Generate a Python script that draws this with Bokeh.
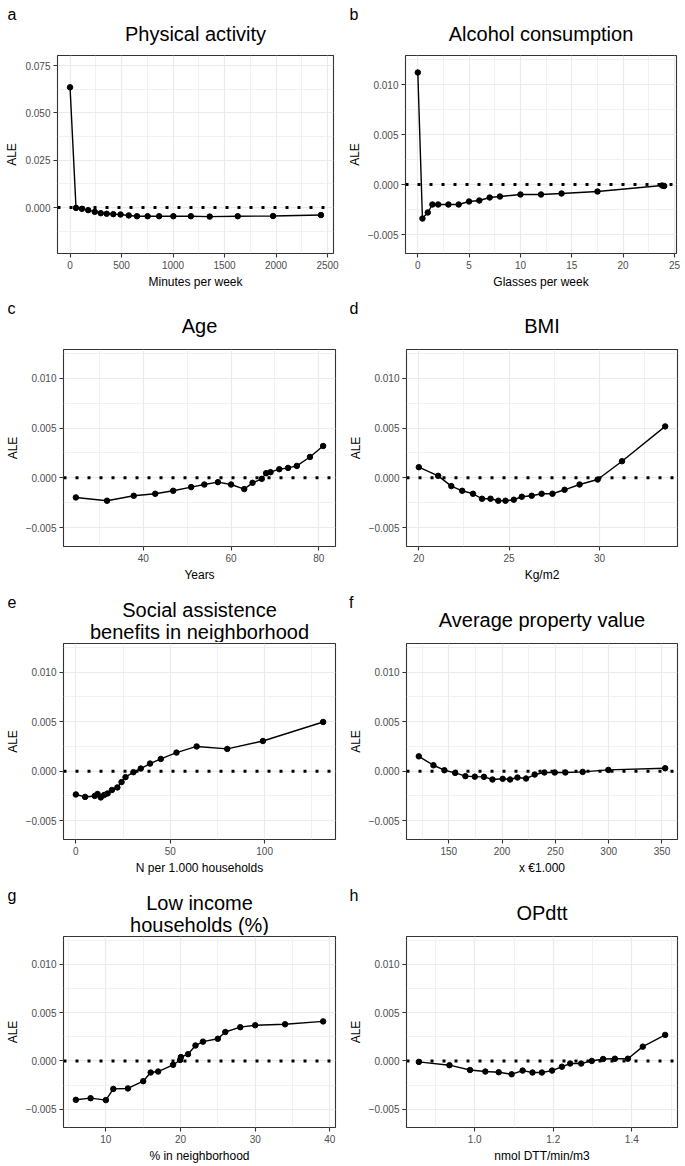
from bokeh.plotting import figure
from bokeh.models import Range1d, FixedTicker, Span
from bokeh.layouts import column, row
from bokeh.core.properties import value
from bokeh.embed import file_html
from bokeh.resources import INLINE

# ---------------- data ----------------
pa_x = [0, 58, 115, 176, 240, 298, 356, 420, 490, 570, 650, 753, 865, 1003, 1173, 1356, 1628, 1971, 2436]
pa_y = [0.0635, -0.0002, -0.0007, -0.0014, -0.0023, -0.0030, -0.0033, -0.0035, -0.0037, -0.0042,
        -0.0046, -0.0046, -0.0046, -0.0046, -0.0046, -0.0048, -0.0046, -0.0045, -0.0040]

pb_x = [0, 0.45, 0.97, 1.42, 1.98, 2.98, 3.98, 4.99, 5.99, 7.0, 8.0, 10.0, 12.0, 14.0, 17.5, 23.8, 24.0]
pb_y = [0.0112, -0.0034, -0.0028, -0.0020, -0.0020, -0.0020, -0.0020, -0.0017, -0.0016, -0.0013,
        -0.0012, -0.0010, -0.0010, -0.0009, -0.0007, -0.0001, -0.00015]

pc_x = [24.6, 31.7, 37.8, 42.7, 46.8, 50.9, 53.9, 57.0, 60.0, 63.0, 64.9, 67.0, 68.0, 69.0, 71.0, 73.0, 75.0, 78.0, 81.0]
pc_y = [-0.00197, -0.0023, -0.0018, -0.0016, -0.0013, -0.00093, -0.00067, -0.00043, -0.00067, -0.00113,
        -0.0005, -0.0001, 0.00047, 0.00057, 0.00087, 0.0010, 0.0012, 0.0021, 0.0032]

pd_x = [20.0, 21.07, 21.8, 22.4, 23.0, 23.5, 23.97, 24.4, 24.8, 25.26, 25.7, 26.25, 26.8, 27.4, 28.07, 28.9, 29.9, 31.25, 33.64]
pd_y = [0.00107, 0.0002, -0.00083, -0.0013, -0.0016, -0.0021, -0.0021, -0.0023, -0.0023, -0.0022,
        -0.0019, -0.0018, -0.0016, -0.0016, -0.0012, -0.00067, -0.00017, 0.00167, 0.00517]

pe_x = [0, 4.9, 10, 11.5, 13.2, 15, 16.8, 19.1, 22, 24.2, 26.3, 30.5, 34.4, 39.3, 45, 53.3, 64, 80.2, 99.1, 131]
pe_y = [-0.00235, -0.0026, -0.0025, -0.0023, -0.00265, -0.0024, -0.00225, -0.0019, -0.00164, -0.0011,
        -0.0006, -0.0001, 0.00027, 0.00077, 0.00124, 0.00188, 0.0025, 0.00225, 0.00305, 0.00497]

pf_x = [121.9, 135.6, 145.9, 156, 165.6, 174.4, 183, 191, 200.6, 207.5, 214.4, 222.5, 230.6, 239.7, 249.4, 259.4, 275.6, 299.7, 353]
pf_y = [0.0015, 0.0006, 0.0001, -0.00017, -0.0005, -0.00055, -0.00057, -0.00084, -0.00077, -0.00084,
        -0.00064, -0.00074, -0.00034, -0.00013, -0.00013, -0.00013, -0.00007, 0.00013, 0.0003]

pg_x = [5.98, 7.95, 10, 11, 12.95, 15, 16, 17, 19, 19.95, 20.05, 21, 22, 23, 25, 26, 28, 30, 34, 39.1]
pg_y = [-0.00403, -0.00386, -0.00406, -0.0029, -0.00285, -0.0021, -0.0012, -0.0011, -0.0004, 0.0001,
        0.0004, 0.0007, 0.0016, 0.0020, 0.0023, 0.0030, 0.0035, 0.0037, 0.0038, 0.0041]

ph_x = [0.8576, 0.9356, 0.988, 1.027, 1.061, 1.094, 1.122, 1.147, 1.171, 1.197, 1.222, 1.243, 1.271, 1.298, 1.327, 1.357, 1.39, 1.428, 1.485]
ph_y = [-0.0001, -0.00044, -0.00094, -0.0011, -0.00117, -0.00138, -0.001, -0.0012, -0.0012, -0.001,
        -0.0006, -0.00027, -0.00027, 0.0, 0.0002, 0.00023, 0.00023, 0.00148, 0.0027]

letters = ["a", "b", "c", "d", "e", "f", "g", "h"]
titles = [["Physical activity"], ["Alcohol consumption"], ["Age"], ["BMI"],
          ["Social assistence", "benefits in neighborhood"], ["Average property value"],
          ["Low income", "households (%)"], ["OPdtt"]]
xlabels = ["Minutes per week", "Glasses per week", "Years", "Kg/m2",
           "N per 1.000 households", "x \u20ac1.000", "% in neighborhood", "nmol DTT/min/m3"]
ylabel = "ALE"

xticks = [[0, 500, 1000, 1500, 2000, 2500], [0, 5, 10, 15, 20, 25], [40, 60, 80], [20, 25, 30],
          [0, 50, 100], [150, 200, 250, 300, 350], [10, 20, 30, 40], [1.0, 1.2, 1.4]]
xticklabels = [["0", "500", "1000", "1500", "2000", "2500"], ["0", "5", "10", "15", "20", "25"],
               ["40", "60", "80"], ["20", "25", "30"], ["0", "50", "100"],
               ["150", "200", "250", "300", "350"], ["10", "20", "30", "40"], ["1.0", "1.2", "1.4"]]
xminor = [[250, 750, 1250, 1750, 2250], [2.5, 7.5, 12.5, 17.5, 22.5], [30, 50, 70], [22.5, 27.5, 32.5],
          [25, 75, 125], [125, 175, 225, 275, 325], [5, 15, 25, 35], [0.9, 1.1, 1.3, 1.5]]

ya_ticks = [0.0, 0.025, 0.05, 0.075]
ya_labels = ["0.000", "0.025", "0.050", "0.075"]
ya_minor = [-0.0125, 0.0125, 0.0375, 0.0625]
ya_lim = [-0.0243, 0.0803]
y_ticks = [-0.005, 0.0, 0.005, 0.01]
y_labels = ["\u22120.005", "0.000", "0.005", "0.010"]
y_minor = [-0.0025, 0.0025, 0.0075, 0.0125]
y_lim = [-0.0069, 0.0129]

xs_all = [pa_x, pb_x, pc_x, pd_x, pe_x, pf_x, pg_x, ph_x]
ys_all = [pa_y, pb_y, pc_y, pd_y, pe_y, pf_y, pg_y, ph_y]

# ---------------- layout / style ----------------
FONT = "Liberation Sans"
COL_W = [342, 343]
HEAD_H = [54, 56, 56, 55]
PLOT_H = [238, 238, 238, 230]
FRAME_H = [198, 197, 196, 197]
LEFT_B = [57, 63, 63, 64, 63, 64, 63, 64]
RIGHT_B = [9, 9, 7, 8, 7, 8, 7, 8]
LETTER_X = 7          # left edge of the panel letter, from the figure's left edge
LETTER_Y = 35         # baseline of the letter above the frame
LETTER_SIZE = 16
LETTER_W = {"a": 0.556, "b": 0.556, "c": 0.5, "d": 0.556, "e": 0.556, "f": 0.278, "g": 0.556, "h": 0.556}
TITLE_Y1 = [20.5, 22.5, 22.5, 22.5]
TITLE_Y2 = [33, 11]


def make_header(i):
    r, c = divmod(i, 2)
    W, Hh = COL_W[c], HEAD_H[r]
    bl, br = LEFT_B[i], RIGHT_B[i]
    fw = W - bl - br
    h = figure(width=W, height=Hh, output_backend="svg", toolbar_location=None,
               x_range=Range1d(0, fw), y_range=Range1d(0, Hh), x_axis_type=None,
               min_border_left=bl, min_border_right=br, min_border_top=0, min_border_bottom=0)
    h.outline_line_color = None
    h.background_fill_color = "white"
    h.border_fill_color = "white"
    h.xgrid.visible = False
    h.ygrid.visible = False
    # panel letter as the single label of an invisible left axis (sits outside the frame)
    tick = LETTER_Y + 0.33 * LETTER_SIZE
    ax = h.yaxis[0]
    ax.ticker = FixedTicker(ticks=[tick], minor_ticks=[])
    ax.major_label_overrides = {tick: letters[i]}
    ax.axis_line_color = None
    ax.major_tick_line_color = None
    ax.minor_tick_line_color = None
    ax.major_tick_out = 0
    ax.major_tick_in = 0
    ax.major_label_text_font = FONT
    ax.major_label_text_font_size = f"{LETTER_SIZE}px"
    ax.major_label_text_color = "black"
    ax.major_label_standoff = int(round(bl - LETTER_X - LETTER_W[letters[i]] * LETTER_SIZE))

    lines = titles[i]
    ys = [TITLE_Y1[r]] if len(lines) == 1 else TITLE_Y2
    h.text(x=[fw / 2] * len(lines), y=ys, text=lines, text_font=value(FONT),
           text_font_size="20px", text_color="black", text_align="center", text_baseline="alphabetic")
    return h


def make_panel(i):
    r, c = divmod(i, 2)
    W, H = COL_W[c], PLOT_H[r]
    bt = 1
    bb = H - bt - FRAME_H[r]
    bl, br = LEFT_B[i], RIGHT_B[i]
    xs, ys = xs_all[i], ys_all[i]
    span = max(xs) - min(xs)
    x0, x1 = min(xs) - 0.05 * span, max(xs) + 0.05 * span
    if i == 0:
        yt, yl, ym, ylim = ya_ticks, ya_labels, ya_minor, ya_lim
    else:
        yt, yl, ym, ylim = y_ticks, y_labels, y_minor, y_lim

    p = figure(width=W, height=H, output_backend="svg", toolbar_location=None,
               x_range=Range1d(x0, x1), y_range=Range1d(ylim[0], ylim[1]),
               min_border_left=bl, min_border_right=br, min_border_top=bt, min_border_bottom=bb)
    p.background_fill_color = "white"
    p.border_fill_color = "white"
    p.outline_line_color = "#333333"
    p.outline_line_width = 1.1

    p.xaxis.ticker = FixedTicker(ticks=xticks[i], minor_ticks=xminor[i])
    p.xaxis.major_label_overrides = {t: s for t, s in zip(xticks[i], xticklabels[i])}
    p.yaxis.ticker = FixedTicker(ticks=yt, minor_ticks=ym)
    p.yaxis.major_label_overrides = {t: s for t, s in zip(yt, yl)}
    for ax in (p.xaxis[0], p.yaxis[0]):
        ax.axis_line_color = None
        ax.major_tick_line_color = "#333333"
        ax.major_tick_line_width = 1.1
        ax.major_tick_out = 4
        ax.major_tick_in = 0
        ax.minor_tick_line_color = None
        ax.major_label_text_font = FONT
        ax.major_label_text_font_size = "10px"
        ax.major_label_text_color = "#4D4D4D"
        ax.major_label_standoff = 3
        ax.axis_label_text_font = FONT
        ax.axis_label_text_font_size = "12px"
        ax.axis_label_text_font_style = "normal"
        ax.axis_label_text_color = "black"
        ax.axis_label_standoff = 3
    p.xaxis.axis_label = xlabels[i]
    p.yaxis.axis_label = ylabel

    for g in (p.xgrid[0], p.ygrid[0]):
        g.grid_line_color = "#EBEBEB"
        g.grid_line_width = 1.2
        g.minor_grid_line_color = "#EBEBEB"
        g.minor_grid_line_width = 0.7

    p.add_layout(Span(location=0, dimension="width", line_color="black",
                      line_width=3, line_dash="3 9"))
    p.line(xs, ys, line_color="black", line_width=1.4)
    p.scatter(xs, ys, size=5.5, color="black")
    return p


rows = []
for r in range(4):
    cols = []
    for c in range(2):
        i = 2 * r + c
        cols.append(column(make_header(i), make_panel(i)))
    rows.append(row(*cols))
layout = column(*rows)

open("out.html", "w").write(file_html(layout, INLINE))
